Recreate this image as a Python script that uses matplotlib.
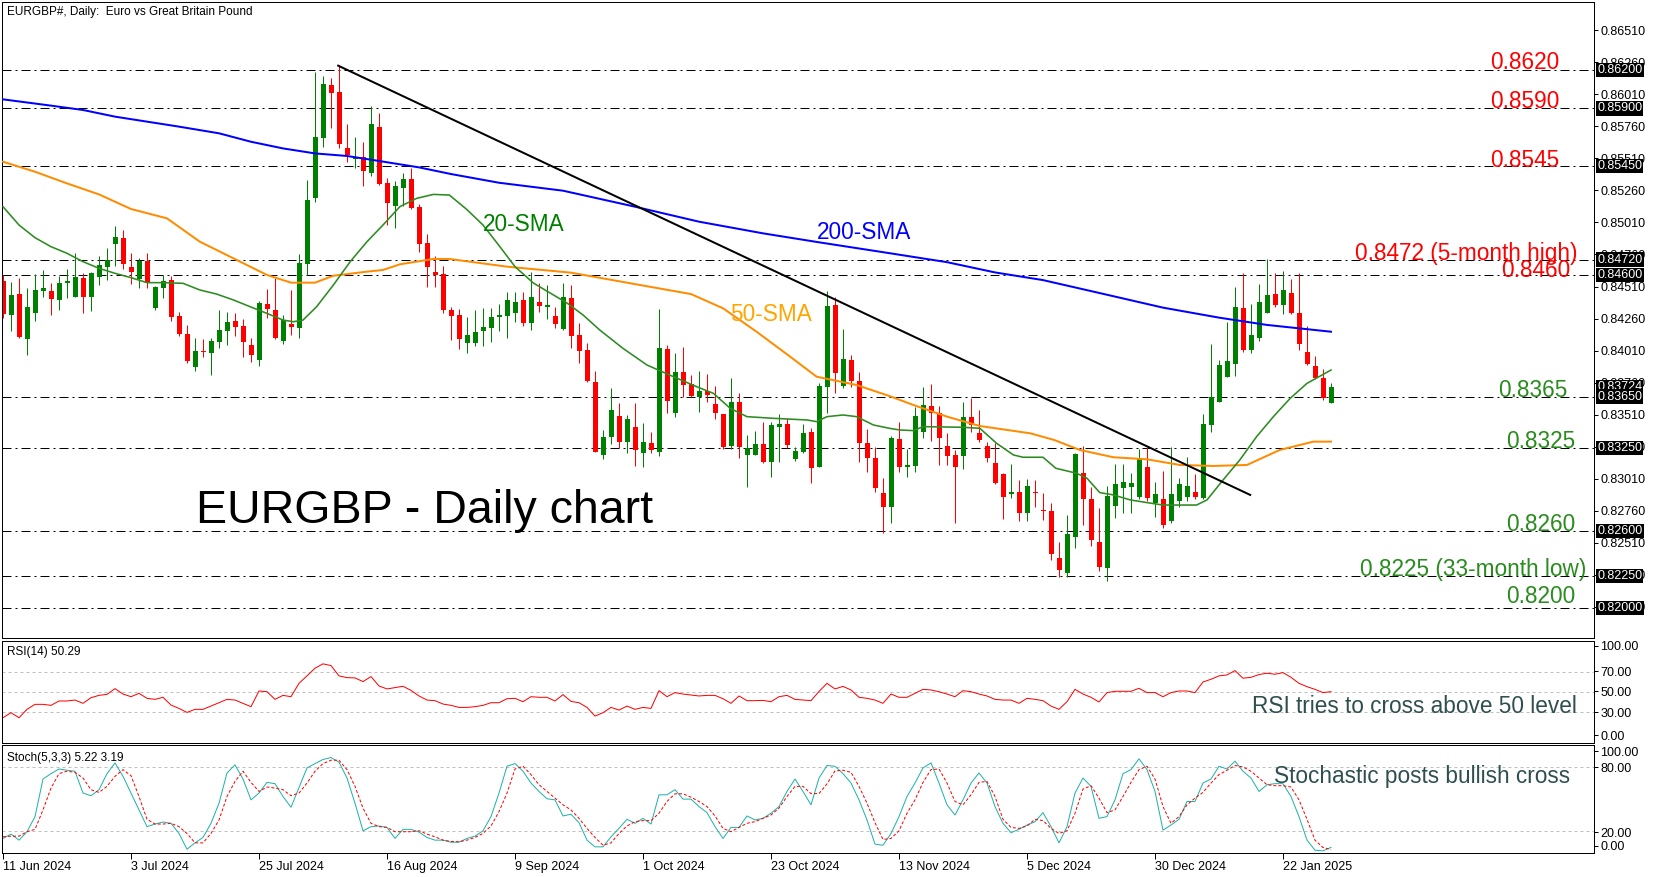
import numpy as np
import matplotlib.pyplot as plt

plt.rcParams['font.family'] = ['Liberation Sans', 'DejaVu Sans']

W, H = 1664, 877
PX = 0.72  # one pixel in points (dpi 100)

# ---- daily bars, bar 0 = 11 Jun 2024 ----
opens = [0.84553, 0.84287, 0.84451, 0.84100, 0.84306, 0.84477, 0.84475, 0.84405, 0.84535, 0.84431,
         0.84576, 0.84431, 0.84587, 0.84662, 0.84844, 0.84888, 0.84662, 0.84571, 0.84709, 0.84345,
         0.84501, 0.84558, 0.84280, 0.84139, 0.83884, 0.84006, 0.83993, 0.84079, 0.84165, 0.84241,
         0.84202, 0.84053, 0.83936, 0.84373, 0.84326, 0.84087, 0.84220, 0.84189, 0.84688, 0.85198,
         0.85672, 0.86083, 0.86026, 0.85591, 0.85505, 0.85518, 0.85399, 0.85755, 0.85318, 0.85138,
         0.85281, 0.85349, 0.85130, 0.84849, 0.84623, 0.84605, 0.84327, 0.84287, 0.84071, 0.84071,
         0.84165, 0.84189, 0.84269, 0.84282, 0.84306, 0.84405, 0.84228, 0.84389, 0.84353, 0.84280,
         0.84176, 0.84420, 0.84131, 0.84014, 0.83762, 0.83195, 0.83338, 0.83499, 0.83299, 0.83413,
         0.83208, 0.83286, 0.83221, 0.84019, 0.83520, 0.83845, 0.83749, 0.83645, 0.83695, 0.83593,
         0.83515, 0.83265, 0.83606, 0.83195, 0.83195, 0.83281, 0.83143, 0.83416, 0.83437, 0.83161,
         0.83221, 0.83377, 0.83104, 0.83723, 0.84366, 0.83736, 0.83936, 0.83775, 0.83286, 0.83169,
         0.82901, 0.82786, 0.83320, 0.83099, 0.83112, 0.83377, 0.83580, 0.83525, 0.83265, 0.83195,
         0.83190, 0.83489, 0.83364, 0.83268, 0.83130, 0.83047, 0.82888, 0.82903, 0.82739, 0.82908,
         0.82762, 0.82757, 0.82388, 0.82276, 0.82557, 0.83052, 0.82849, 0.82515, 0.82315, 0.82800,
         0.82940, 0.82947, 0.82869, 0.83099, 0.82823, 0.82849, 0.82679, 0.82838, 0.82869, 0.82903,
         0.82856, 0.83429, 0.83611, 0.83806, 0.83905, 0.84340, 0.84014, 0.84105, 0.84306, 0.84452,
         0.84366, 0.84462, 0.84306, 0.84001, 0.83892, 0.83793, 0.83603]
highs = [0.84600, 0.84548, 0.84579, 0.84496, 0.84605, 0.84639, 0.84537, 0.84595, 0.84644, 0.84769,
         0.84613, 0.84626, 0.84748, 0.84813, 0.84982, 0.84953, 0.84769, 0.84735, 0.84769, 0.84516,
         0.84600, 0.84589, 0.84313, 0.84212, 0.84105, 0.84097, 0.84107, 0.84326, 0.84313, 0.84306,
         0.84256, 0.84111, 0.84397, 0.84488, 0.84579, 0.84287, 0.84483, 0.84761, 0.85341, 0.86187,
         0.86153, 0.86135, 0.86234, 0.85776, 0.85677, 0.85635, 0.85919, 0.85862, 0.85354, 0.85333,
         0.85393, 0.85432, 0.85151, 0.84920, 0.84748, 0.84673, 0.84347, 0.84332, 0.84269, 0.84327,
         0.84340, 0.84340, 0.84371, 0.84470, 0.84470, 0.84470, 0.84626, 0.84535, 0.84522, 0.84347,
         0.84535, 0.84522, 0.84222, 0.84066, 0.83853, 0.83390, 0.83715, 0.83603, 0.83507, 0.83598,
         0.83447, 0.83374, 0.84332, 0.84053, 0.83988, 0.84035, 0.83819, 0.83853, 0.83827, 0.83733,
         0.83515, 0.83798, 0.83676, 0.83351, 0.83385, 0.83455, 0.83455, 0.83515, 0.83481, 0.83255,
         0.83437, 0.83403, 0.83754, 0.84475, 0.84425, 0.84181, 0.83975, 0.83845, 0.83395, 0.83260,
         0.83013, 0.83343, 0.83455, 0.83239, 0.83572, 0.83728, 0.83749, 0.83577, 0.83364, 0.83234,
         0.83611, 0.83637, 0.83546, 0.83299, 0.83291, 0.83052, 0.83122, 0.82999, 0.83005, 0.82999,
         0.82895, 0.82822, 0.82518, 0.82726, 0.83207, 0.83265, 0.82942, 0.82778, 0.82950, 0.83122,
         0.83122, 0.83057, 0.83239, 0.83260, 0.82986, 0.83073, 0.83255, 0.83018, 0.83177, 0.83047,
         0.83515, 0.84061, 0.83936, 0.84235, 0.84509, 0.84618, 0.84373, 0.84530, 0.84722, 0.84618,
         0.84634, 0.84566, 0.84618, 0.84202, 0.83967, 0.83863, 0.83759]
lows = [0.84261, 0.84163, 0.84105, 0.83975, 0.84243, 0.84431, 0.84287, 0.84326, 0.84418, 0.84431,
        0.84300, 0.84319, 0.84522, 0.84561, 0.84673, 0.84649, 0.84532, 0.84496, 0.84501, 0.84326,
        0.84423, 0.84243, 0.84126, 0.83910, 0.83853, 0.83962, 0.83821, 0.84027, 0.84053, 0.84123,
        0.83962, 0.83923, 0.83892, 0.84261, 0.84098, 0.84059, 0.84131, 0.84105, 0.84600, 0.85172,
        0.85601, 0.85750, 0.85588, 0.85484, 0.85432, 0.85297, 0.85375, 0.85305, 0.84994, 0.84968,
        0.85141, 0.85115, 0.84777, 0.84509, 0.84509, 0.84300, 0.84092, 0.84019, 0.83988, 0.84045,
        0.84045, 0.84079, 0.84163, 0.84105, 0.84230, 0.84200, 0.84170, 0.84314, 0.84259, 0.84188,
        0.84170, 0.84032, 0.83910, 0.83764, 0.83215, 0.83161, 0.83278, 0.83252, 0.83208, 0.83109,
        0.83098, 0.83208, 0.83189, 0.83520, 0.83494, 0.83650, 0.83650, 0.83533, 0.83611, 0.83476,
        0.83242, 0.83239, 0.83169, 0.82942, 0.83195, 0.83135, 0.83026, 0.83143, 0.83252, 0.83151,
        0.83208, 0.82974, 0.83104, 0.83525, 0.83681, 0.83715, 0.83728, 0.83143, 0.83065, 0.82909,
        0.82588, 0.82661, 0.83065, 0.83026, 0.83065, 0.83325, 0.83307, 0.83117, 0.83117, 0.82666,
        0.83083, 0.83377, 0.83299, 0.83143, 0.82968, 0.82692, 0.82862, 0.82682, 0.82682, 0.82786,
        0.82687, 0.82375, 0.82245, 0.82239, 0.82466, 0.82650, 0.82486, 0.82291, 0.82213, 0.82700,
        0.82739, 0.82739, 0.82850, 0.82838, 0.82713, 0.82622, 0.82666, 0.82786, 0.82838, 0.82851,
        0.82848, 0.83377, 0.83611, 0.83806, 0.83811, 0.84001, 0.83993, 0.84087, 0.84301, 0.84347,
        0.84295, 0.84295, 0.84014, 0.83897, 0.83785, 0.83624, 0.83603]
closes = [0.84293, 0.84444, 0.84116, 0.84350, 0.84483, 0.84498, 0.84415, 0.84537, 0.84553, 0.84584,
          0.84431, 0.84615, 0.84675, 0.84719, 0.84896, 0.84688, 0.84623, 0.84709, 0.84540, 0.84506,
          0.84555, 0.84274, 0.84142, 0.83931, 0.84006, 0.83996, 0.84084, 0.84170, 0.84233, 0.84196,
          0.84074, 0.83975, 0.84379, 0.84334, 0.84105, 0.84248, 0.84196, 0.84691, 0.85185, 0.85677,
          0.86091, 0.86023, 0.85622, 0.85536, 0.85516, 0.85414, 0.85778, 0.85313, 0.85164, 0.85294,
          0.85349, 0.85125, 0.84844, 0.84662, 0.84602, 0.84326, 0.84282, 0.84103, 0.84131, 0.84152,
          0.84191, 0.84269, 0.84285, 0.84405, 0.84392, 0.84228, 0.84428, 0.84358, 0.84363, 0.84217,
          0.84425, 0.84124, 0.84006, 0.83770, 0.83221, 0.83338, 0.83546, 0.83299, 0.83476, 0.83234,
          0.83299, 0.83234, 0.84027, 0.83619, 0.83840, 0.83741, 0.83655, 0.83697, 0.83663, 0.83520,
          0.83260, 0.83606, 0.83260, 0.83252, 0.83278, 0.83143, 0.83429, 0.83437, 0.83273, 0.83229,
          0.83364, 0.83096, 0.83733, 0.84358, 0.83832, 0.83941, 0.83772, 0.83291, 0.83169, 0.82935,
          0.82786, 0.83325, 0.83104, 0.83117, 0.83499, 0.83585, 0.83525, 0.83325, 0.83190, 0.83104,
          0.83489, 0.83429, 0.83312, 0.83169, 0.82974, 0.82864, 0.82903, 0.82744, 0.82953, 0.82901,
          0.82757, 0.82419, 0.82297, 0.82578, 0.83202, 0.82849, 0.82531, 0.82323, 0.82875, 0.82966,
          0.82981, 0.82973, 0.83161, 0.82862, 0.82890, 0.82648, 0.82890, 0.82966, 0.82953, 0.82864,
          0.83437, 0.83650, 0.83897, 0.83928, 0.84347, 0.84014, 0.84131, 0.84392, 0.84444, 0.84366,
          0.84483, 0.84301, 0.84061, 0.83902, 0.83793, 0.83637, 0.83724]

# moving averages, sampled along the drawn lines (bar index, value)
sma20_idx = [0, 2, 4, 6, 8, 10, 12, 14, 16, 18, 20, 22.5, 24.6, 26.7, 28.8, 30.9, 33, 35, 36.3, 37.5,
             39.2, 41.3, 43.4, 45.5, 47.5, 49.6, 51.7, 53.8, 55.8, 58, 60, 62, 64, 66.3, 68.4, 70.5,
             72.5, 74.6, 77.5, 80.5, 83.8, 86.7, 88.8, 90.9, 93, 96.3, 100.5, 101.7, 103, 105, 106.7,
             108.8, 110.8, 112.1, 113.8, 115, 120, 122.1, 124.2, 126.3, 127.5, 130, 131.6, 134.2,
             135.5, 137.1, 138.8, 140.9, 143, 145, 149.2, 150.5, 152.5, 154.6, 156.7, 158.8, 160.9,
             163, 166]
sma20_val = [0.85133, 0.84990, 0.84891, 0.84821, 0.84769, 0.84704, 0.84652, 0.84613, 0.84579, 0.84540,
             0.84540, 0.84535, 0.84483, 0.84451, 0.84405, 0.84352, 0.84300, 0.84248, 0.84235, 0.84248,
             0.84352, 0.84522, 0.84704, 0.84860, 0.84990, 0.85133, 0.85198, 0.85229, 0.85224, 0.85110,
             0.84990, 0.84830, 0.84665, 0.84537, 0.84459, 0.84381, 0.84288, 0.84170, 0.84027, 0.83897,
             0.83806, 0.83728, 0.83676, 0.83559, 0.83494, 0.83481, 0.83468, 0.83455, 0.83494, 0.83507,
             0.83494, 0.83429, 0.83403, 0.83390, 0.83385, 0.83416, 0.83411, 0.83403, 0.83286, 0.83195,
             0.83177, 0.83177, 0.83091, 0.83052, 0.83013, 0.82901, 0.82883, 0.82844, 0.82823, 0.82804,
             0.82804, 0.82844, 0.82999, 0.83156, 0.83338, 0.83494, 0.83637, 0.83754, 0.83858]
sma50_idx = [0, 4, 8, 12, 16, 20.5, 24.6, 28.8, 33, 36, 39, 41.3, 45.5, 47.5, 49.6, 53.8, 55.8, 63, 71,
             79.6, 86, 90, 94.2, 98.4, 101.7, 106.7, 110.8, 113.8, 118, 122.1, 128.4, 131.4, 134.6,
             138.8, 143, 147.1, 151.3, 155.5, 159.6, 163.8, 166]
sma50_val = [0.85484, 0.85406, 0.85315, 0.85229, 0.85115, 0.85042, 0.84860, 0.84730, 0.84600, 0.84540,
             0.84540, 0.84594, 0.84626, 0.84639, 0.84683, 0.84725, 0.84725, 0.84665, 0.84618, 0.84522,
             0.84451, 0.84340, 0.84157, 0.83962, 0.83806, 0.83741, 0.83655, 0.83585, 0.83494, 0.83421,
             0.83364, 0.83312, 0.83234, 0.83177, 0.83161, 0.83117, 0.83109, 0.83117, 0.83234, 0.83299,
             0.83299]
sma200_idx = [0, 6, 10, 14, 18, 22, 27, 31, 35, 39, 43, 47, 52, 56, 62, 70, 79, 87, 95, 102, 110, 118,
              124, 130, 137, 145, 152, 158, 166]
sma200_val = [0.85971, 0.85922, 0.85888, 0.85836, 0.85797, 0.85758, 0.85706, 0.85640, 0.85588, 0.85549,
              0.85529, 0.85490, 0.85440, 0.85388, 0.85320, 0.85258, 0.85133, 0.85016, 0.84925, 0.84855,
              0.84778, 0.84700, 0.84620, 0.84560, 0.84460, 0.84345, 0.84267, 0.84210, 0.84157]

trend_idx = [41.9, 155.9]
trend_val = [0.86234, 0.82883]

rsi = [24.8, 29.7, 24.8, 33.0, 37.9, 37.9, 36.9, 41.2, 41.2, 42.1,
       38.9, 44.4, 46.7, 47.7, 53.3, 48.0, 45.4, 48.7, 43.8, 42.8,
       44.8, 37.2, 33.9, 30.0, 33.0, 33.0, 36.2, 39.5, 42.8, 42.1,
       38.9, 35.6, 51.0, 50.3, 42.8, 46.7, 45.4, 58.5, 65.8, 73.3,
       77.6, 75.9, 65.8, 64.1, 63.8, 60.2, 65.1, 55.9, 53.0, 54.3,
       55.6, 51.6, 46.1, 42.1, 41.5, 38.2, 36.9, 34.9, 34.9, 35.6,
       36.9, 39.5, 39.5, 43.4, 43.8, 40.5, 45.4, 44.8, 44.8, 41.2,
       47.4, 40.8, 39.5, 34.9, 26.4, 29.7, 34.9, 32.3, 36.2, 33.0,
       34.9, 33.9, 51.3, 45.4, 49.4, 48.0, 47.1, 46.1, 46.7, 46.7,
       43.4, 38.9, 46.1, 41.5, 41.5, 41.8, 40.5, 45.4, 46.7, 42.8,
       42.1, 41.5, 50.5, 58.5, 53.0, 55.5, 52.0, 44.8, 43.8, 42.1,
       38.9, 48.0, 44.8, 44.8, 48.7, 52.6, 52.0, 50.3, 48.0, 45.4,
       51.3, 50.3, 48.0, 46.1, 42.8, 42.1, 42.1, 38.9, 43.8, 42.8,
       41.5, 36.2, 33.0, 40.5, 52.6, 48.0, 44.8, 40.2, 49.4, 50.7,
       50.7, 50.7, 53.6, 49.4, 49.4, 45.4, 49.4, 51.0, 51.0, 49.4,
       59.8, 62.5, 65.8, 66.7, 71.0, 63.5, 64.4, 67.1, 68.4, 67.4,
       69.0, 64.4, 58.5, 55.2, 52.6, 49.4, 50.3]
stoch_k = [13.5, 17.5, 11.9, 19.7, 33.7, 68.5, 73.5, 77.8, 76.6, 75.7,
           55.5, 53.0, 58.6, 73.5, 83.4, 71.0, 55.5, 39.9, 24.4, 26.8,
           28.7, 27.5, 18.1, 3.5, 9.4, 14.4, 27.5, 46.1, 74.1, 81.6,
           68.5, 49.2, 55.5, 65.4, 64.2, 52.3, 42.4, 60.7, 78.8, 82.8,
           86.6, 88.4, 84.1, 69.4, 46.1, 20.6, 24.4, 25.0, 23.7, 13.5,
           21.9, 21.9, 19.4, 14.4, 11.9, 11.9, 10.0, 10.0, 13.5, 15.6,
           20.6, 33.7, 55.5, 80.3, 82.8, 75.7, 64.8, 57.0, 50.2, 49.2,
           34.3, 35.9, 28.1, 11.9, 5.7, 5.7, 15.0, 22.8, 31.2, 27.5,
           32.1, 26.8, 53.9, 53.9, 58.6, 49.9, 49.9, 43.0, 37.4, 24.4,
           13.5, 23.7, 23.7, 34.3, 30.6, 32.1, 36.8, 43.0, 57.0, 68.5,
           57.0, 44.6, 69.4, 81.0, 80.3, 73.5, 64.8, 49.2, 30.6, 8.2,
           7.2, 18.1, 33.7, 52.3, 64.8, 78.8, 83.4, 64.8, 44.6, 35.2,
           49.2, 64.8, 74.1, 64.8, 43.0, 27.5, 18.8, 21.9, 25.9, 29.0,
           37.4, 24.4, 9.4, 24.4, 55.5, 69.4, 61.7, 32.1, 33.7, 49.2,
           73.5, 77.2, 87.2, 77.2, 57.0, 21.2, 25.9, 31.2, 47.7, 47.7,
           64.8, 68.5, 80.3, 77.8, 85.0, 75.7, 69.4, 57.0, 63.2, 64.2,
           64.2, 52.3, 33.7, 11.9, 2.6, 2.0, 5.2]
stoch_d = [15.0, 15.6, 15.6, 19.7, 21.9, 39.9, 60.1, 73.5, 75.7, 74.7,
           69.4, 58.6, 56.1, 61.7, 71.0, 77.2, 71.6, 52.3, 31.2, 26.8,
           26.8, 27.5, 24.4, 18.1, 9.4, 9.4, 18.1, 30.6, 52.3, 66.3,
           75.7, 65.4, 57.0, 61.1, 60.1, 58.6, 53.0, 55.5, 64.8, 75.7,
           82.8, 85.9, 85.9, 77.2, 61.7, 41.5, 27.5, 24.4, 23.7, 19.7,
           19.7, 19.7, 20.6, 17.5, 15.0, 11.9, 10.7, 10.4, 11.9, 14.4,
           18.1, 25.0, 38.3, 55.5, 77.8, 80.3, 72.6, 63.2, 57.0, 50.8,
           44.6, 39.9, 32.1, 22.8, 14.4, 7.2, 9.4, 18.1, 25.0, 29.0,
           30.0, 30.0, 36.8, 47.7, 54.8, 54.8, 51.7, 47.7, 43.0, 34.3,
           22.8, 19.7, 23.7, 27.5, 29.0, 32.1, 35.2, 41.5, 52.3, 61.7,
           61.7, 55.0, 55.0, 64.0, 76.0, 76.6, 74.7, 61.7, 46.1, 28.1,
           12.5, 13.5, 20.6, 36.8, 49.2, 65.4, 77.2, 77.8, 64.8, 47.7,
           44.6, 53.9, 65.4, 66.3, 52.3, 31.2, 23.7, 22.8, 25.0, 31.2,
           30.0, 22.8, 18.1, 20.6, 36.8, 59.2, 62.3, 50.8, 37.4, 39.9,
           52.3, 65.4, 77.2, 80.3, 68.5, 43.0, 27.5, 33.7, 44.6, 50.8,
           56.1, 64.8, 72.6, 76.6, 81.0, 79.7, 75.7, 69.4, 63.2, 62.3,
           62.3, 61.1, 49.2, 31.2, 11.9, 5.1, 3.2]

price_ticks = [0.86510, 0.86260, 0.86010, 0.85760, 0.85510, 0.85260, 0.85010, 0.84760, 0.84510,
               0.84260, 0.84010, 0.83760, 0.83510, 0.83260, 0.83010, 0.82760, 0.82510, 0.82260, 0.82010]
boxed_prices = [0.86200, 0.85900, 0.85450, 0.84720, 0.84600, 0.83724, 0.83650, 0.83250,
                0.82600, 0.82250, 0.82000]
levels = [0.8620, 0.8590, 0.8545, 0.8472, 0.8460, 0.8365, 0.8325, 0.8260, 0.8225, 0.8200]
level_texts = ['0.8620', '0.8590', '0.8545', '0.8472 (5-month high)', '0.8460',
               '0.8365', '0.8325', '0.8260', '0.8225 (33-month low)', '0.8200']
date_pos = [0, 16, 32, 48, 64, 80, 96, 112, 128, 144, 160]
date_labels = ['11 Jun 2024', '3 Jul 2024', '25 Jul 2024', '16 Aug 2024', '9 Sep 2024', '1 Oct 2024',
               '23 Oct 2024', '13 Nov 2024', '5 Dec 2024', '30 Dec 2024', '22 Jan 2025']

GREEN = '#008000'
RED = '#ff0000'
LEVEL_GREEN = '#2a8c1e'
NOTE = '#2f4f4f'

YMIN, YMAX = 0.81766, 0.86731
P1 = (YMAX - YMIN) / 636.0   # price per pixel
XMIN, XMAX = -0.125, 198.875


def frac(x0, y0, x1, y1):
    return [x0 / W, 1 - y1 / H, (x1 - x0) / W, (y1 - y0) / H]


fig = plt.figure(figsize=(W / 100, H / 100), dpi=100)
ax = fig.add_axes(frac(2, 2, 1594, 638))
ax_rsi = fig.add_axes(frac(2, 641, 1594, 743))
ax_st = fig.add_axes(frac(2, 745, 1594, 853))

for a in (ax, ax_rsi, ax_st):
    a.set_xlim(XMIN, XMAX)
    for s in a.spines.values():
        s.set_linewidth(PX)
        s.set_color('black')
    a.yaxis.tick_right()
    a.tick_params(axis='y', direction='out', length=3, width=PX, pad=1.5, labelsize=9)
    a.tick_params(axis='x', bottom=False, labelbottom=False)

# ---------- main price panel ----------
x = np.arange(len(closes))
o, h, l, c = (np.array(v) for v in (opens, highs, lows, closes))
col = np.where(c >= o, GREEN, RED)
ax.vlines(x, l, h, colors=col, linewidth=PX, zorder=2)
body_lo = np.minimum(o, c)
body_h = np.maximum(np.abs(c - o), P1 * 1.0)
ax.bar(x, body_h, bottom=body_lo, width=0.625, color=col, linewidth=0, zorder=2)

for lv in levels:
    ax.axhline(lv, color='black', linewidth=PX, linestyle=(0, (9, 4, 2, 4)), zorder=1)

ax.plot(sma200_idx, sma200_val, color='#0000ff', linewidth=2 * PX, zorder=3)
ax.plot(sma50_idx, sma50_val, color='#ff8c00', linewidth=2 * PX, zorder=3)
ax.plot(sma20_idx, sma20_val, color='#2e8b22', linewidth=1.6 * PX, zorder=3)
ax.plot(trend_idx, trend_val, color='black', linewidth=2 * PX, zorder=4)

ax.set_ylim(YMIN, YMAX)
ax.set_yticks(price_ticks)
ax.set_yticklabels([f'{p:.5f}' for p in price_ticks])

for p in boxed_prices:
    ax.text(1.0019, p, f'{p:.5f}', transform=ax.get_yaxis_transform(), ha='left', va='center',
            color='white', fontsize=9, zorder=10, clip_on=False,
            bbox=dict(boxstyle='square,pad=0.1', fc='black', ec='none'))

# level annotations: right edge (bar units) and baseline shift (px)
label_right = [194.6, 194.6, 194.6, 196.75, 195.9, 195.5, 196.5, 196.5, 197.9, 196.5]
label_shift = [1, 0, -1, 0, -2, 0, 0, 0, 0, 5]
for i, (lv, txt) in enumerate(zip(levels, level_texts)):
    ax.text(label_right[i], lv + label_shift[i] * P1, txt, ha='right', va='baseline',
            fontsize=16.3, color=RED if i < 5 else LEVEL_GREEN, zorder=6)

ax.text(60.0, 0.84943, '20-SMA', color=GREEN, fontsize=16.3, va='baseline', zorder=6)
ax.text(90.9, 0.84241, '50-SMA', color='#ffa500', fontsize=16.3, va='baseline', zorder=6)
ax.text(101.75, 0.84881, '200-SMA', color='#0000ff', fontsize=16.3, va='baseline', zorder=6)
ax.text(24.1, 0.82664, 'EURGBP - Daily chart', color='black', fontsize=33.5, va='baseline', zorder=6)
ax.text(0.003, 0.985, 'EURGBP#, Daily:  Euro vs Great Britain Pound', transform=ax.transAxes,
        fontsize=8.5, va='center', ha='left')

# ---------- RSI panel ----------
ax_rsi.plot(x, rsi, color=RED, linewidth=PX)
for lv in (70, 50, 30):
    ax_rsi.axhline(lv, color='#c0c0c0', linewidth=PX, linestyle=(0, (3, 3)), zorder=0)
ax_rsi.set_ylim(0, 100)
ax_rsi.set_yticks([95.1, 70.3, 50.7, 30.2, 7.6])
ax_rsi.set_yticklabels(['100.00', '70.00', '50.00', '30.00', '0.00'])
ax_rsi.text(0.003, 0.895, 'RSI(14) 50.29', transform=ax_rsi.transAxes, fontsize=8.5, va='center')
ax_rsi.text(196.75, 35.3, 'RSI tries to cross above 50 level', ha='right', va='center',
            fontsize=16.3, color=NOTE)

# ---------- Stochastic panel ----------
ax_st.plot(x, stoch_k, color='#20b2aa', linewidth=PX)
ax_st.plot(x, stoch_d, color=RED, linewidth=PX, linestyle=(0, (3, 2)))
for lv in (80, 20):
    ax_st.axhline(lv, color='#c0c0c0', linewidth=PX, linestyle=(0, (3, 3)), zorder=0)
ax_st.set_ylim(0, 100)
ax_st.set_yticks([94.4, 79.6, 19.4, 6.5])
ax_st.set_yticklabels(['100.00', '80.00', '20.00', '0.00'])
ax_st.text(0.003, 0.884, 'Stoch(5,3,3) 5.22 3.19', transform=ax_st.transAxes, fontsize=8.5, va='center')
ax_st.text(195.9, 70.4, 'Stochastic posts bullish cross', ha='right', va='center',
           fontsize=16.3, color=NOTE)

ax_st.tick_params(axis='x', bottom=True, labelbottom=True, direction='out', length=4,
                  width=PX, pad=1.5, labelsize=9)
ax_st.set_xticks(date_pos)
ax_st.set_xticklabels(date_labels)
for t in ax_st.get_xticklabels():
    t.set_horizontalalignment('left')

fig.savefig('out.png', dpi=100)
